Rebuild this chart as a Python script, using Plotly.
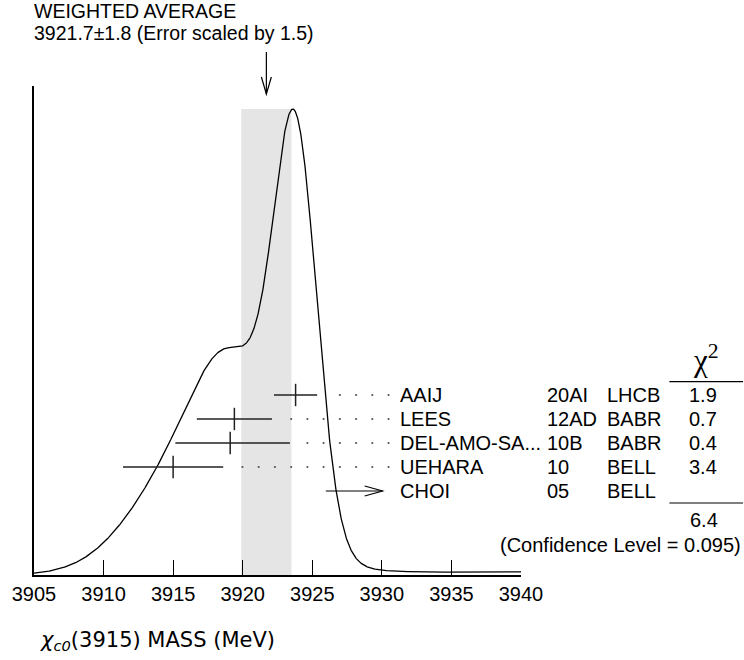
import numpy as np
import plotly.graph_objects as go

# Measurements of the chi_c0(3915) mass (MeV)
names = ["AAIJ", "LEES", "DEL-AMO-SA...", "UEHARA", "CHOI"]
years = ["20AI", "12AD", "10B", "10", "05"]
experiments = ["LHCB", "BABR", "BABR", "BELL", "BELL"]
values = [3923.8, 3919.4, 3919.1, 3915.0, 3943.0]
err_minus = [1.55, 2.7, 3.94, 3.6, 17.0]
err_plus = [1.55, 2.7, 4.29, 3.6, 17.0]
chi2_labels = ["1.9", "0.7", "0.4", "3.4", ""]
in_range = [True, True, True, True, False]

avg_value = 3921.7
avg_error = 1.8
error_scale = 1.5
chi2_total = "6.4"
confidence_level = "0.095"

x_ticks = [3905, 3910, 3915, 3920, 3925, 3930, 3935, 3940]
x_min, x_max = 3905, 3940

# ---- figure geometry (pixels) ----
W, H = 744, 660
M_L, M_R, M_T, M_B = 32, 223, 86, 85
PW = W - M_L - M_R
PH = H - M_T - M_B
ROW_PX = 24.0          # vertical spacing between measurement rows
ROW0_PX = 395.0        # pixel row of the first measurement


def px_x(px):
    return (px - M_L) / PW


def px_y(py):
    return (H - M_B - py) / PH


# ---- ideogram: each measurement is a Gaussian with area ~ 1/sigma ----
xs = np.linspace(x_min, x_max, 1400)
curve = np.zeros_like(xs)
for v, em, ep in zip(values, err_minus, err_plus):
    s_avg = 0.5 * (em + ep)
    sig = np.where(xs < v, em, ep)
    curve += (1.0 / s_avg ** 2) * np.exp(-0.5 * ((xs - v) / sig) ** 2)
peak = curve.max()
y_top = peak * PH / (H - M_B - 109.0)

# row axis: row i sits at pixel ROW0_PX + i*ROW_PX
r_top = -(ROW0_PX - M_T) / ROW_PX
r_bot = r_top + PH / ROW_PX

fig = go.Figure()

# ideogram curve
fig.add_trace(go.Scatter(x=xs, y=curve, mode="lines",
                         line=dict(color="black", width=1.3),
                         hoverinfo="skip", showlegend=False))

# error bars of the measurements inside the range
for i, (v, em, ep, ok) in enumerate(zip(values, err_minus, err_plus, in_range)):
    if not ok:
        continue
    fig.add_trace(go.Scatter(
        x=[v], y=[i], yaxis="y2", mode="markers",
        marker=dict(symbol="line-ns", size=16,
                    line=dict(color="#222", width=1.5)),
        error_x=dict(type="data", symmetric=False, array=[ep], arrayminus=[em],
                     width=0, thickness=1.5, color="#222"),
        hoverinfo="skip", showlegend=False))

# dotted leaders from each bar to its label
dot_end = x_min + (388 - M_L) * (x_max - x_min) / PW
dot_step = 16.3 * (x_max - x_min) / PW
dx, dy = [], []
for i, (v, ep, ok) in enumerate(zip(values, err_plus, in_range)):
    if not ok:
        continue
    hi = v + ep
    k = 0
    while dot_end - k * dot_step > hi + 0.8:
        dx.append(dot_end - k * dot_step)
        dy.append(i)
        k += 1
fig.add_trace(go.Scatter(x=dx, y=dy, yaxis="y2", mode="markers",
                         marker=dict(size=2.2, color="#555"),
                         hoverinfo="skip", showlegend=False))

shapes = []
# weighted-average band
shapes.append(dict(type="rect", xref="x", yref="y",
                   x0=avg_value - avg_error, x1=avg_value + avg_error,
                   y0=0, y1=peak, fillcolor="#e5e5e5",
                   line=dict(width=0), layer="below"))

# arrow above the average
ax = (avg_value - x_min) / (x_max - x_min)
adx = 5 / PW
shapes.append(dict(type="line", xref="paper", yref="paper",
                   x0=ax, x1=ax, y0=px_y(52), y1=px_y(94),
                   line=dict(color="black", width=1.2)))
shapes.append(dict(type="path", xref="paper", yref="paper",
                   path=f"M {ax - adx},{px_y(77)} L {ax},{px_y(94)} L {ax + adx},{px_y(77)}",
                   line=dict(color="black", width=1.2)))

# arrow for the off-scale measurement
for i, ok in enumerate(in_range):
    if ok:
        continue
    yr = ROW0_PX + i * ROW_PX
    shapes.append(dict(type="line", xref="paper", yref="paper",
                       x0=px_x(325), x1=px_x(382), y0=px_y(yr), y1=px_y(yr),
                       line=dict(color="black", width=1.2)))
    shapes.append(dict(type="path", xref="paper", yref="paper",
                       path=f"M {px_x(364)},{px_y(yr - 5)} L {px_x(382)},{px_y(yr)} L {px_x(364)},{px_y(yr + 5)}",
                       line=dict(color="black", width=1.2)))

# chi-square column rules
for yl in (381.7, 503.0):
    shapes.append(dict(type="line", xref="paper", yref="paper",
                       x0=px_x(670), x1=px_x(744), y0=px_y(yl), y1=px_y(yl),
                       line=dict(color="black", width=1.2)))

FONT = "Liberation Sans, Arial, Helvetica, sans-serif"
ann = []


def text(s, px, py, anchor="left", size=20, family=FONT):
    ann.append(dict(text=s, xref="paper", yref="paper", x=px_x(px), y=px_y(py),
                    xanchor=anchor, yanchor="middle", showarrow=False,
                    font=dict(family=family, size=size, color="black")))


text("WEIGHTED AVERAGE", 30, 11.5, size=19.5)
text(f"{avg_value}\u00b1{avg_error} (Error scaled by {error_scale})", 30, 33,
     size=19.5)

for i in range(len(names)):
    yr = ROW0_PX + i * ROW_PX
    text(names[i], 397, yr)
    text(years[i], 545, yr)
    text(experiments[i], 605, yr)
    if chi2_labels[i]:
        text(chi2_labels[i], 704, yr, anchor="center")

text("\u03c7<sup>2</sup>", 707, 358, anchor="center", size=31,
     family="Liberation Serif, serif")
text(chi2_total, 705, 520, anchor="center")
text(f"(Confidence Level = {confidence_level})", 744, 545, anchor="right")
text("<i>\u03c7<sub>c0</sub></i>(3915) MASS (MeV)", 36, 641, size=21,
     family="DejaVu Sans, sans-serif")

fig.update_layout(
    width=W, height=H,
    margin=dict(l=M_L, r=M_R, t=M_T, b=M_B),
    paper_bgcolor="white", plot_bgcolor="white",
    showlegend=False,
    shapes=shapes, annotations=ann,
    xaxis=dict(range=[x_min, x_max], tickvals=x_ticks,
               ticktext=[str(t) for t in x_ticks],
               ticks="inside", ticklen=15, tickwidth=1.2, tickcolor="black",
               showline=True, linecolor="black", linewidth=1.5,
               showgrid=False, zeroline=False,
               tickfont=dict(family=FONT, size=20, color="black")),
    yaxis=dict(range=[0, y_top], showline=True, linecolor="black", linewidth=1.5,
               showticklabels=False, ticks="", showgrid=False, zeroline=False),
    yaxis2=dict(range=[r_bot, r_top], overlaying="y", visible=False,
                showgrid=False, zeroline=False),
)

fig.write_html("out.html")
